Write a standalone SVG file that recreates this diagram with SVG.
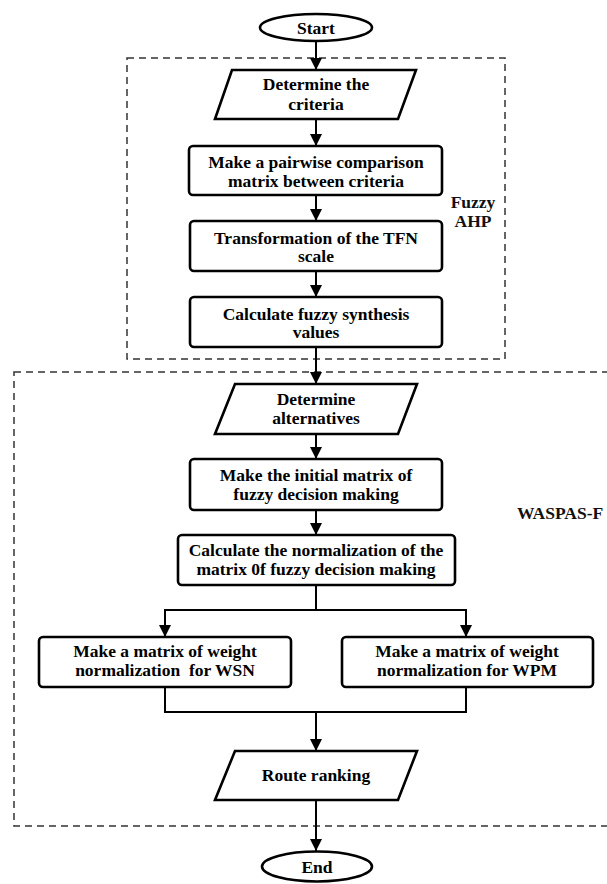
<svg xmlns="http://www.w3.org/2000/svg" width="607" height="884" viewBox="0 0 607 884">
<style>
.box{fill:#fff;stroke:#000;stroke-width:2.6}
.grp{fill:none;stroke:#333;stroke-width:1.5;stroke-dasharray:7 5}
.ln{fill:none;stroke:#000;stroke-width:2}
.t{font-family:"Liberation Serif","Times New Roman",serif;font-weight:bold;font-size:17.5px;fill:#000;text-anchor:middle}
.lbl{font-family:"Liberation Serif","Times New Roman",serif;font-weight:bold;font-size:17.5px;fill:#111}
</style>
<defs>
<marker id="ah" markerUnits="userSpaceOnUse" markerWidth="12" markerHeight="12" refX="12" refY="6" orient="auto">
<path d="M0,0 L12,6 L0,12 z" fill="#000"/>
</marker>
</defs>
<rect width="607" height="884" fill="#fff"/>
<g id="groups">
<rect id="fuzzy-ahp" class="grp" x="127" y="58" width="378" height="301"/>
<text class="lbl" x="473" y="208" text-anchor="middle">Fuzzy</text>
<text class="lbl" x="473" y="227" text-anchor="middle">AHP</text>
<rect id="waspas" class="grp" x="14" y="372" width="610" height="454"/>
<text class="lbl" x="517" y="519">WASPAS-F</text>
</g>
<g id="connectors">
<line class="ln" x1="316" y1="41" x2="316" y2="70" marker-end="url(#ah)"/>
<line class="ln" x1="316" y1="119" x2="316" y2="146" marker-end="url(#ah)"/>
<line class="ln" x1="316" y1="195" x2="316" y2="221" marker-end="url(#ah)"/>
<line class="ln" x1="316" y1="271" x2="316" y2="297" marker-end="url(#ah)"/>
<line class="ln" x1="316" y1="347" x2="316" y2="384" marker-end="url(#ah)"/>
<line class="ln" x1="316" y1="434" x2="316" y2="459" marker-end="url(#ah)"/>
<line class="ln" x1="316" y1="510" x2="316" y2="535" marker-end="url(#ah)"/>
<polyline class="ln" points="316,585 316,610"/>
<polyline class="ln" points="165,637 165,610 466,610 466,637"/>
<line class="ln" x1="165" y1="612" x2="165" y2="637" marker-end="url(#ah)"/>
<line class="ln" x1="466" y1="612" x2="466" y2="637" marker-end="url(#ah)"/>
<polyline class="ln" points="165,687 165,712 466,712 466,687"/>
<line class="ln" x1="316" y1="712" x2="316" y2="751" marker-end="url(#ah)"/>
<line class="ln" x1="316" y1="800" x2="316" y2="851" marker-end="url(#ah)"/>
</g>
<g id="start">
<ellipse class="box" cx="316" cy="27.5" rx="56" ry="13.5"/>
<text class="t" x="316" y="33.5">Start</text>
</g>
<g id="determine-criteria">
<polygon class="box" points="232,70 416,70 398,119 215,119"/>
<text class="t" x="316" y="90">Determine the</text>
<text class="t" x="316" y="109.5">criteria</text>
</g>
<g id="pairwise">
<rect class="box" x="189" y="146" width="253" height="49" rx="4"/>
<text class="t" x="316" y="168">Make a pairwise comparison</text>
<text class="t" x="316" y="186.5">matrix between criteria</text>
</g>
<g id="tfn">
<rect class="box" x="190" y="221" width="252" height="50" rx="4"/>
<text class="t" x="316" y="243.5">Transformation of the TFN</text>
<text class="t" x="316" y="262">scale</text>
</g>
<g id="synthesis">
<rect class="box" x="190" y="297" width="252" height="50" rx="4"/>
<text class="t" x="316" y="319.5">Calculate fuzzy synthesis</text>
<text class="t" x="316" y="338">values</text>
</g>
<g id="alternatives">
<polygon class="box" points="235,384 417,384 398,434 215,434"/>
<text class="t" x="316" y="404.5">Determine</text>
<text class="t" x="316" y="424">alternatives</text>
</g>
<g id="initial-matrix">
<rect class="box" x="190" y="459" width="252" height="51" rx="4"/>
<text class="t" x="316" y="481">Make the initial matrix of</text>
<text class="t" x="316" y="500">fuzzy decision making</text>
</g>
<g id="normalization">
<rect class="box" x="178" y="535" width="277" height="50" rx="4"/>
<text class="t" x="316" y="556">Calculate the normalization of the</text>
<text class="t" x="316" y="575">matrix 0f fuzzy decision making</text>
</g>
<g id="wsn">
<rect class="box" x="39" y="637" width="252" height="50" rx="4"/>
<text class="t" x="165" y="657">Make a matrix of weight</text>
<text class="t" x="165" y="675.5" xml:space="preserve">normalization  for WSN</text>
</g>
<g id="wpm">
<rect class="box" x="342" y="637" width="251" height="50" rx="4"/>
<text class="t" x="467" y="657">Make a matrix of weight</text>
<text class="t" x="467" y="675.5">normalization for WPM</text>
</g>
<g id="ranking">
<polygon class="box" points="235,751 417,751 398,800 215,800"/>
<text class="t" x="316" y="781">Route ranking</text>
</g>
<g id="end">
<ellipse class="box" cx="317" cy="866.5" rx="55" ry="15"/>
<text class="t" x="317" y="873">End</text>
</g>
</svg>
